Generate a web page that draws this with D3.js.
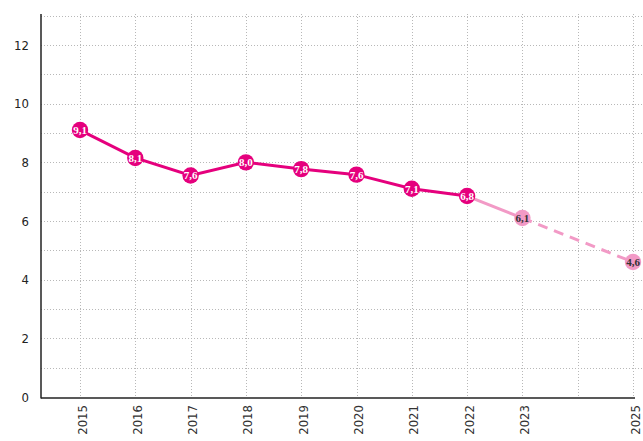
<!DOCTYPE html>
<html><head><meta charset="utf-8">
<script src="https://cdn.jsdelivr.net/npm/d3@7"></script>
<style>body{margin:0;background:#fff}svg{display:block}</style>
</head><body>
<script>
const years = [2015,2016,2017,2018,2019,2020,2021,2022,2023,2025];
const values = [9.1,8.15,7.55,8.0,7.77,7.58,7.1,6.85,6.1,4.6];
const labels = ["9,1","8,1","7,6","8,0","7,8","7,6","7,1","6,8","6,1","4,6"];
const forecast = [false,false,false,false,false,false,false,false,true,true];
const yTicks = [0,2,4,6,8,10,12];
const gridYears = [2015,2016,2017,2018,2019,2020,2021,2022,2023,2024,2025];

(function(){
const W=643,H=441;
const svg=d3.select("body").append("svg").attr("width",W).attr("height",H);
const x=d3.scaleLinear().domain([2015,2025]).range([80,633]);
const y=d3.scaleLinear().domain([0,12]).range([397,45]);
const leftX=41, topY=14;
const MAG="#e5007d", PINK="#f29ac6";
const FONT="'DejaVu Sans Condensed','DejaVu Sans',sans-serif";

const g=svg.append("g");
g.selectAll(".hg").data(d3.range(1,14)).enter().append("line")
 .attr("x1",leftX).attr("x2",W).attr("y1",d=>Math.round(y(d))+0.5).attr("y2",d=>Math.round(y(d))+0.5)
 .attr("stroke","#b8b8b8").attr("stroke-width",1).attr("stroke-dasharray","1,2");
g.selectAll(".vg").data(gridYears).enter().append("line")
 .attr("x1",d=>Math.round(x(d))+0.5).attr("x2",d=>Math.round(x(d))+0.5).attr("y1",topY).attr("y2",y(0))
 .attr("stroke","#b8b8b8").attr("stroke-width",1).attr("stroke-dasharray","1,2");

svg.append("line").attr("x1",leftX).attr("x2",leftX).attr("y1",topY).attr("y2",y(0)+1.5)
 .attr("stroke","#222").attr("stroke-width",1.5);
svg.append("line").attr("x1",leftX).attr("x2",635).attr("y1",y(0)+1).attr("y2",y(0)+1)
 .attr("stroke","#222").attr("stroke-width",1.5);

svg.selectAll(".yt").data(yTicks).enter().append("text")
 .attr("x",29).attr("y",d=>y(d)).attr("dy","0.35em").attr("text-anchor","end")
 .attr("font-family",FONT).attr("font-size",13).attr("fill","#222").text(d=>d);

svg.selectAll(".xt").data(years).enter().append("text")
 .attr("transform",d=>`translate(${x(d)+2},405) rotate(-90)`)
 .attr("dy","0.35em").attr("text-anchor","end")
 .attr("font-family",FONT).attr("font-size",13).attr("fill","#333").text(d=>d);

const pts=years.map((d,i)=>({yr:d,v:values[i],l:labels[i],f:forecast[i]}));
const line=d3.line().x(d=>x(d.yr)).y(d=>y(d.v));
svg.append("path").datum(pts.slice(0,8)).attr("d",line).attr("fill","none")
 .attr("stroke",MAG).attr("stroke-width",3);
svg.append("path").datum(pts.slice(7,9)).attr("d",line).attr("fill","none")
 .attr("stroke",PINK).attr("stroke-width",3);
svg.append("path").datum(pts.slice(8,10)).attr("d",line).attr("fill","none")
 .attr("stroke",PINK).attr("stroke-width",3).attr("stroke-dasharray","10,7");

const pg=svg.selectAll(".pt").data(pts).enter().append("g")
 .attr("transform",d=>`translate(${x(d.yr)},${y(d.v)})`);
pg.append("circle").attr("r",8.2).attr("fill",d=>d.f?PINK:MAG);
pg.append("text").attr("text-anchor","middle").attr("dy","0.35em")
 .attr("font-family","Liberation Serif").attr("font-weight","bold").attr("font-size",11)
 .attr("fill",d=>d.f?"#333":"#fff").text(d=>d.l);
})();
</script>
</body></html>
